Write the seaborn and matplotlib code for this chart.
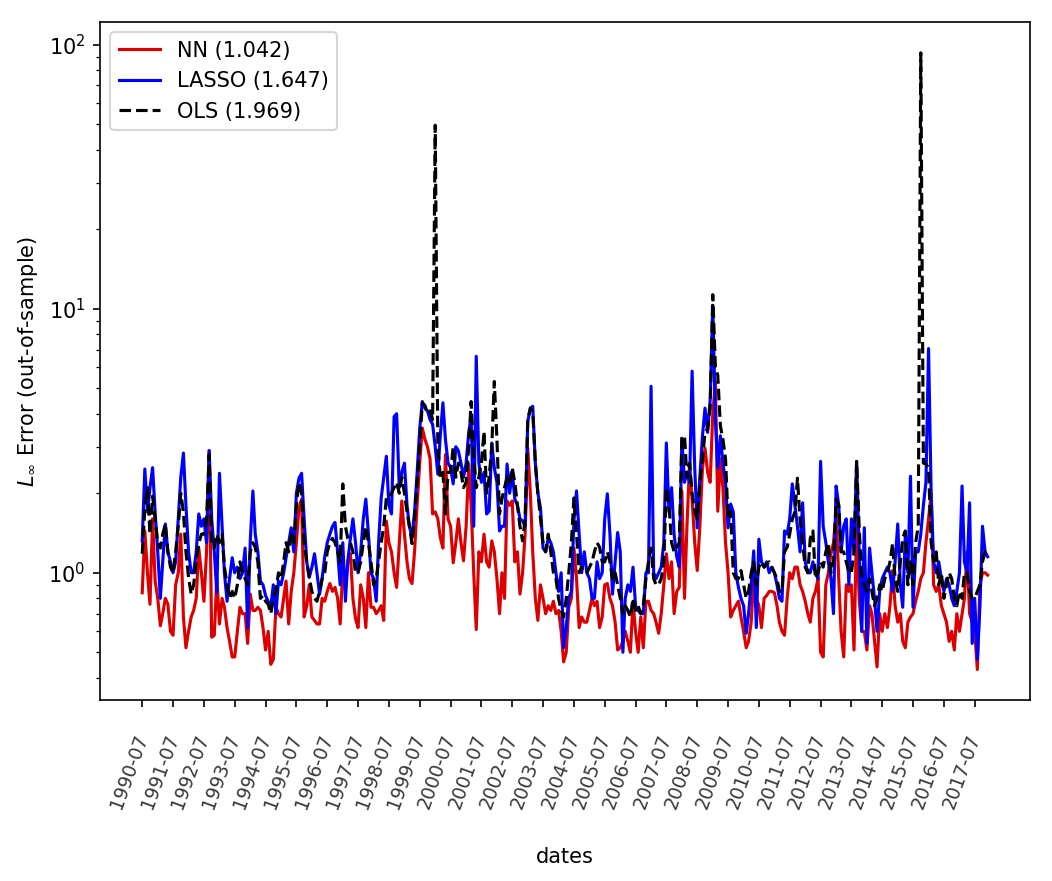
import matplotlib
matplotlib.use("Agg")
import matplotlib.pyplot as plt
import seaborn as sns
import pandas as pd

# monthly out-of-sample errors, 1990-07 .. 2017-12
nn_err = [
    0.84, 1.44, 1.0, 0.76, 1.6, 0.93, 0.8, 0.63, 0.7, 0.8, 0.76, 0.6,
    0.58, 0.9, 1.0, 1.4, 0.68, 0.52, 0.6, 0.68, 0.72, 0.8, 1.24, 1.0,
    0.78, 1.2, 2.9, 0.57, 0.58, 0.96, 0.64, 0.8, 0.74, 0.62, 0.55, 0.48,
    0.48, 0.6, 0.74, 0.7, 0.7, 0.54, 0.83, 0.72, 0.72, 0.74, 0.72, 0.62,
    0.51, 0.6, 0.45, 0.47, 0.74, 0.7, 0.68, 0.8, 0.93, 0.64, 0.85, 1.0,
    1.3, 1.76, 1.9, 0.68, 0.75, 0.9, 0.68, 0.66, 0.64, 0.64, 0.8, 0.78,
    0.85, 0.91, 0.85, 0.88, 0.8, 0.64, 1.05, 0.9, 1.1, 1.18, 0.8, 0.67,
    0.62, 0.9, 0.8, 0.62, 1.0, 0.74, 0.74, 0.7, 0.72, 0.75, 0.66, 1.57,
    1.3, 1.2, 1.0, 0.88, 1.3, 1.87, 1.4, 1.1, 0.95, 0.91, 1.2, 1.82,
    2.6, 3.53, 3.2, 3.0, 2.7, 1.67, 1.7, 1.6, 1.36, 1.24, 2.8, 1.6,
    1.5, 1.09, 1.3, 1.6, 1.3, 1.11, 1.5, 2.58, 1.8, 1.0, 0.61, 1.2,
    1.1, 1.4, 1.1, 1.05, 1.32, 1.2, 0.95, 0.7, 1.0, 0.8, 1.87, 1.8,
    1.87, 1.1, 1.2, 0.83, 1.0, 1.4, 2.96, 2.0, 1.2, 0.8, 0.66, 0.9,
    0.8, 0.7, 0.75, 0.72, 0.78, 0.7, 0.72, 0.6, 0.46, 0.5, 0.74, 0.8,
    1.24, 0.95, 0.62, 0.68, 0.65, 0.65, 0.72, 0.8, 0.75, 0.78, 0.62, 0.68,
    0.9, 0.91, 0.8, 0.75, 0.65, 0.51, 0.52, 0.55, 0.6, 0.55, 0.5, 0.78,
    0.6, 0.5, 0.68, 0.52, 0.78, 0.78, 0.72, 0.7, 0.65, 0.59, 0.7, 0.9,
    1.18, 0.95, 1.1, 0.7, 0.85, 0.88, 2.04, 0.8, 1.5, 2.58, 1.9, 1.3,
    1.02, 1.5, 2.5, 2.96, 2.4, 2.2, 4.0, 5.3, 1.71, 2.7, 2.1, 1.3,
    1.0, 0.68, 0.72, 0.75, 0.78, 0.68, 0.6, 0.52, 0.55, 0.65, 0.95, 0.8,
    0.75, 0.62, 0.8, 0.82, 0.85, 0.85, 0.84, 0.75, 0.65, 0.6, 0.58, 0.8,
    1.0, 0.95, 1.05, 1.05, 0.9, 0.85, 0.78, 0.7, 0.65, 0.8, 0.85, 0.95,
    0.5, 0.48, 0.9, 1.0, 1.18, 1.3, 1.71, 0.95, 0.6, 0.48, 0.9, 0.85,
    0.9, 0.51, 1.53, 0.8, 0.6, 0.6, 0.51, 0.75, 0.7, 0.55, 0.44, 0.7,
    0.6, 0.7, 0.62, 0.75, 1.02, 0.75, 0.65, 0.7, 0.55, 0.52, 0.65, 0.68,
    0.7, 0.78, 0.85, 0.95, 1.0, 1.3, 1.6, 1.99, 0.9, 0.85, 0.9, 0.75,
    0.7, 0.65, 0.55, 0.6, 0.51, 0.7, 0.6, 0.7, 0.8, 1.2, 0.7, 0.65,
    0.6, 0.43, 0.9, 1.0, 1.0, 0.98,
]

lasso_err = [
    1.32, 2.47, 1.7, 2.1, 2.5, 1.7, 1.2, 0.8, 1.1, 1.53, 1.2, 1.1,
    1.0, 1.1, 1.6, 2.3, 2.84, 1.8, 1.2, 1.0, 1.0, 1.2, 1.67, 1.5,
    1.6, 1.3, 2.9, 1.6, 1.2, 0.84, 2.38, 1.5, 1.0, 0.78, 0.95, 1.14,
    1.0, 1.05, 0.95, 1.0, 1.24, 0.62, 1.32, 2.04, 1.4, 1.2, 0.93, 0.9,
    0.82, 0.78, 0.74, 0.9, 0.7, 0.93, 0.9, 1.0, 1.14, 1.3, 1.48, 1.2,
    2.0, 2.28, 2.38, 1.6, 1.1, 0.96, 1.05, 1.18, 1.0, 0.83, 0.95, 1.15,
    1.3, 1.4, 1.5, 1.55, 1.2, 0.9, 1.3, 0.78, 1.1, 1.35, 1.6, 1.3,
    1.0, 1.2, 1.6, 1.9, 1.4, 1.0, 0.95, 0.78, 1.3, 1.92, 2.3, 2.76,
    1.8, 1.67, 3.9, 4.0, 2.1, 2.4, 2.6, 1.8, 1.5, 1.36, 1.7, 2.4,
    3.5, 4.45, 4.2, 4.1, 3.8, 3.65, 3.0, 2.36, 3.3, 4.4, 3.2, 2.6,
    2.5, 2.17, 3.0, 2.9, 2.6, 2.3, 2.6, 3.4, 3.9, 1.5, 6.6, 2.6,
    2.2, 2.4, 1.67, 1.71, 3.1, 2.5, 2.2, 1.44, 1.5, 1.5, 2.58, 2.0,
    2.43, 1.9, 1.8, 1.6, 1.57, 1.5, 3.74, 4.2, 4.27, 2.6, 2.0, 1.76,
    1.24, 1.2, 1.35, 1.3, 1.2, 1.0, 0.85, 1.0, 0.52, 0.62, 0.8, 0.85,
    1.57, 2.04, 1.4, 1.0, 1.2, 1.0, 0.95, 0.8, 0.8, 1.1, 0.95, 1.0,
    1.6, 1.99, 1.4, 0.83, 1.1, 1.42, 1.2, 0.5, 0.8, 0.9, 0.85, 1.05,
    0.75, 0.72, 0.7, 0.7, 1.0, 1.0, 5.08, 1.0, 0.95, 1.0, 1.05, 1.3,
    3.1, 1.7, 2.1, 1.4, 1.15, 1.05, 3.23, 2.2, 2.4, 2.2, 5.8, 2.5,
    1.48, 2.3, 3.3, 4.2, 3.4, 4.5, 10.3, 3.8, 2.5, 3.3, 2.6, 2.2,
    1.48, 1.82, 1.7, 1.0, 0.88, 0.8, 0.75, 0.59, 0.7, 0.9, 1.21, 0.62,
    1.34, 1.1, 1.05, 1.1, 1.0, 1.05, 1.0, 0.9, 0.8, 0.78, 1.44, 1.4,
    1.6, 2.17, 1.8, 1.5, 1.2, 1.84, 1.1, 1.0, 1.0, 1.1, 1.0, 0.95,
    2.64, 1.5, 1.3, 1.1, 0.95, 0.7, 2.13, 1.8, 1.2, 1.5, 1.6, 0.9,
    1.6, 1.2, 2.64, 1.2, 0.6, 1.48, 0.54, 1.24, 1.0, 0.8, 0.6, 0.85,
    0.95, 1.0, 1.05, 1.0, 0.85, 1.1, 1.53, 0.9, 0.74, 1.4, 1.0, 2.32,
    0.74, 1.2, 1.2, 1.4, 1.8, 2.2, 7.06, 2.0, 1.1, 1.0, 1.1, 0.95,
    0.85, 0.95, 0.9, 0.8, 0.75, 0.85, 1.0, 2.13, 1.1, 1.0, 1.84, 0.54,
    0.8, 0.47, 0.75, 1.5, 1.2, 1.15,
]

ols_err = [
    1.18, 1.76, 2.1, 1.4, 1.95, 1.6, 1.3, 1.24, 1.4, 1.53, 1.2, 1.05,
    1.0, 1.2, 1.5, 2.0, 1.7, 1.2, 0.96, 0.83, 0.9, 1.1, 1.29, 1.4,
    1.4, 1.6, 2.8, 1.3, 1.24, 1.4, 1.3, 1.4, 1.05, 0.9, 0.8, 0.85,
    0.8, 0.9, 1.1, 1.0, 0.95, 0.9, 1.2, 1.3, 1.25, 1.1, 0.8, 0.82,
    0.78, 0.76, 0.7, 0.8, 0.85, 1.0, 0.95, 1.1, 1.3, 1.2, 1.4, 1.3,
    1.8, 2.2, 2.0, 1.3, 1.1, 0.96, 0.85, 0.8, 0.78, 0.85, 0.95, 1.0,
    1.2, 1.3, 1.35, 1.3, 1.2, 1.1, 2.17, 1.5, 1.35, 1.3, 1.2, 1.0,
    1.0, 1.1, 1.3, 1.5, 1.3, 1.1, 0.9, 0.95, 1.1, 1.3, 1.5, 1.92,
    1.92, 2.0, 2.1, 2.2, 2.0, 2.3, 2.0, 1.7, 1.5, 1.29, 1.6, 2.2,
    3.0, 4.4, 4.3, 4.0, 4.1, 3.8, 49.5, 3.0, 2.3, 2.4, 1.67, 2.4,
    2.4, 3.0, 2.3, 2.6, 2.4, 2.1, 2.2, 3.0, 4.45, 2.8, 2.1, 2.3,
    2.6, 3.43, 2.0, 2.3, 3.0, 5.3, 3.2, 1.67, 1.9, 2.1, 2.3, 2.2,
    2.5, 2.2, 1.8, 1.5, 1.32, 1.6, 3.8, 4.2, 4.1, 2.6, 2.0, 1.6,
    1.3, 1.2, 1.4, 1.2, 1.0, 0.95, 0.8, 0.72, 0.68, 0.8, 1.0, 1.3,
    1.92, 1.4, 1.0, 1.05, 1.0, 1.0, 1.05, 1.1, 1.2, 1.3, 1.25, 1.1,
    1.1, 1.2, 1.1, 0.95, 1.0, 0.9, 0.8, 0.7, 0.75, 0.72, 0.68, 0.8,
    0.72, 0.75, 0.7, 0.75, 0.95, 1.1, 1.24, 0.95, 0.9, 0.9, 0.95, 1.1,
    2.1, 1.8, 1.3, 1.2, 1.25, 1.3, 3.23, 3.3, 2.3, 2.6, 2.0, 1.7,
    1.6, 2.2, 2.7, 3.4, 3.5, 4.2, 11.3, 6.0, 5.6, 3.6, 3.2, 2.7,
    1.6, 1.7, 1.0, 0.95, 0.95, 1.02, 0.9, 0.8, 0.85, 1.0, 1.1, 0.9,
    1.05, 1.1, 1.05, 1.08, 1.1, 1.05, 1.0, 0.95, 0.85, 0.85, 1.2, 1.25,
    1.4, 1.6, 1.7, 2.28, 1.6, 1.3, 1.05, 1.0, 1.35, 1.44, 0.95, 1.0,
    1.1, 1.05, 1.2, 1.3, 1.0, 1.1, 1.9, 1.8, 1.2, 1.2, 1.1, 1.0,
    1.0, 1.2, 2.64, 1.5, 0.95, 0.9, 0.85, 0.95, 0.85, 0.75, 0.8, 0.9,
    0.85, 0.95, 1.0, 1.1, 1.29, 0.95, 0.85, 1.1, 1.35, 1.44, 0.9, 1.1,
    0.9, 1.3, 1.5, 93.0, 2.6, 2.58, 2.5, 1.3, 1.1, 1.2, 0.9, 1.0,
    0.8, 0.9, 1.0, 0.95, 0.8, 0.75, 0.85, 0.8, 1.0, 1.0, 0.85, 0.8,
    0.8, 0.85, 0.9, 1.1, 1.2, 1.15,
]

labels = ["NN (1.042)", "LASSO (1.647)", "OLS (1.969)"]

dates = pd.date_range("1990-07-01", periods=len(nn_err), freq="MS")
tick_dates = pd.date_range("1990-07-01", "2017-07-01", freq="12MS")

fig, ax = plt.subplots(figsize=(1052 / 150, 881 / 150), dpi=150)
fig.subplots_adjust(left=0.095, right=0.979, bottom=0.205, top=0.975)

sns.lineplot(x=dates, y=nn_err, ax=ax, color="#dd0000", lw=1.5, label=labels[0])
sns.lineplot(x=dates, y=lasso_err, ax=ax, color="#0000ff", lw=1.5, label=labels[1])
sns.lineplot(x=dates, y=ols_err, ax=ax, color="black", lw=1.5, linestyle="--", label=labels[2])

ax.set_yscale("log")
ax.set_xticks(tick_dates)
ax.set_xticklabels(tick_dates.strftime("%Y-%m"), rotation=70, rotation_mode="anchor",
                   ha="right", va="center", fontsize=9, color="#3a3a3a")
ax.tick_params(axis="x", pad=13)
ax.set_xlabel("dates", labelpad=17)
ax.set_ylabel(r"$L_\infty$ Error (out-of-sample)")
ax.legend(loc="upper left")

plt.savefig("out.png", dpi=150)
